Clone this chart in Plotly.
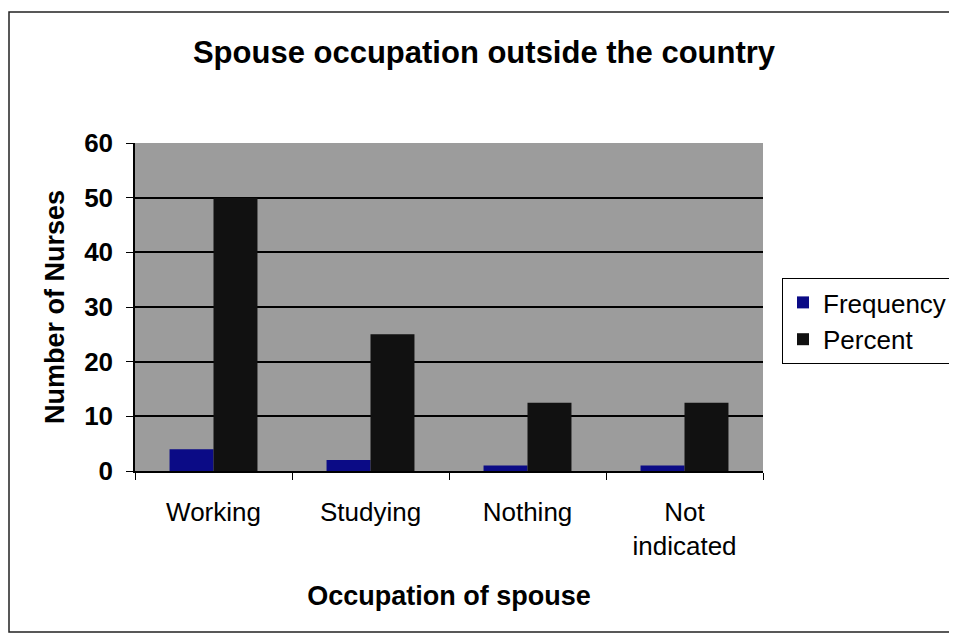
import plotly.graph_objects as go

categories = ['Working', 'Studying', 'Nothing', 'Not<br>indicated']
frequency = [4, 2, 1, 1]
percent = [50, 25, 12.5, 12.5]
y_ticks = [0, 10, 20, 30, 40, 50, 60]

FONT = 'Liberation Sans, Arial, sans-serif'

# page body has an 8px margin, so the figure is 8px smaller and everything
# is measured from (8, 8)
W, H = 949, 631
L, T, R, B = 127, 135, 194, 168
pw, ph = W - L - R, H - T - B

fig = go.Figure()
fig.add_trace(go.Bar(x=categories, y=frequency, name='Frequency',
                     marker=dict(color='#0b0b86', line=dict(width=0))))
fig.add_trace(go.Bar(x=categories, y=percent, name='Percent',
                     marker=dict(color='#111111', line=dict(width=0))))

# scanned page frame around the chart
frame = dict(type='rect', xref='paper', yref='paper',
             x0=(1 - L) / pw, x1=(W + 20 - L) / pw,
             y0=(H - B - 624) / ph, y1=(H - B - 4) / ph,
             line=dict(color='#222222', width=1.5), layer='below')

fig.update_layout(
    width=W, height=H,
    margin=dict(l=L, r=R, t=T, b=B),
    paper_bgcolor='white',
    plot_bgcolor='#9c9c9c',
    barmode='group',
    bargap=0.44,
    bargroupgap=0,
    font=dict(family=FONT, color='black'),
    title=dict(text='<b>Spouse occupation outside the country</b>',
               x=(484 - 8) / W, xanchor='center', y=1 - 44 / H, yanchor='middle',
               font=dict(size=31)),
    # container refs so the legend does not push the right margin
    legend=dict(xref='container', yref='container',
                x=774 / W, xanchor='left',
                y=1 - 270 / H, yanchor='top',
                bordercolor='black', borderwidth=1,
                font=dict(size=26), tracegroupgap=0,
                itemwidth=30),
    shapes=[frame],
    xaxis=dict(
        title=dict(text='<b>Occupation of spouse</b>', font=dict(size=27), standoff=26),
        tickfont=dict(size=26),
        showline=True, linecolor='black', linewidth=1.5,
        ticks='outside', tickson='boundaries', ticklen=7, tickcolor='black',
        ticklabelstandoff=17,
        mirror=False,
    ),
    yaxis=dict(
        title=dict(text='<b>Number of Nurses</b>', font=dict(size=27), standoff=12),
        tickfont=dict(size=26, weight='bold'),
        range=[0, 60], tickvals=y_ticks,
        showline=True, linecolor='black', linewidth=1.5,
        ticks='outside', ticklen=7, tickcolor='black',
        ticklabelstandoff=8,
        showgrid=True, gridcolor='black', gridwidth=1.5,
        zeroline=False,
    ),
)

fig.write_html('out.html')
